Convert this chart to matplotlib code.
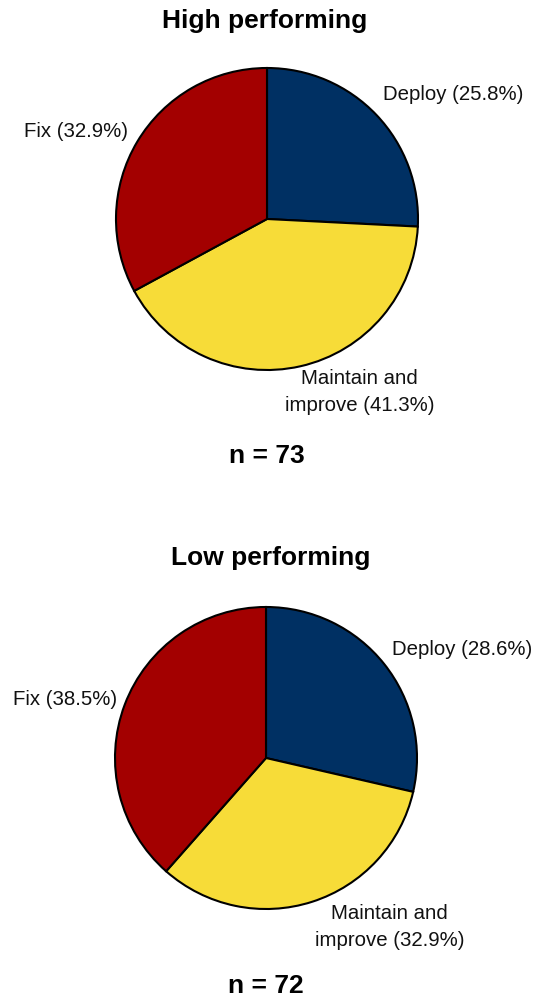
import matplotlib
matplotlib.use("Agg")
import matplotlib.pyplot as plt
from matplotlib.transforms import offset_copy

plt.rcParams["font.family"] = ["Liberation Sans", "DejaVu Sans"]

categories = ["Deploy", "Maintain and\nimprove", "Fix"]
high_values = [25.8, 41.3, 32.9]
low_values = [28.6, 32.9, 38.5]
high_n = 73
low_n = 72
colors = ["#003063", "#F7DC38", "#A30000"]

W, H = 533, 999
fig = plt.figure(figsize=(W / 100, H / 100), dpi=100)
fig.patch.set_facecolor("white")

R = 151  # pie radius in pixels

# per-label nudges (pixels, y up) and vertical alignment
high_nudge = [(-2, 7, "baseline"), (-18, 9, "top"), (1, -1.5, "baseline")]
low_nudge = [(-1.5, 1.5, "baseline"), (-1, 9, "top"), (3.5, -5, "baseline")]


def draw_pie(cx, cy, values, nudges, title, n, title_x, title_base, n_base):
    ax = fig.add_axes([(cx - R) / W, 1 - (cy + R) / H, 2 * R / W, 2 * R / H])
    labels = [f"{c} ({v:.1f}%)" for c, v in zip(categories, values)]
    _, texts = ax.pie(values, labels=labels, colors=colors, startangle=90,
                      counterclock=False, labeldistance=1.08,
                      wedgeprops=dict(edgecolor="black", linewidth=1.5),
                      textprops=dict(fontsize=14.7, multialignment="center",
                                     linespacing=1.52, color="#111111"))
    for t, (dx, dy, va) in zip(texts, nudges):
        t.set_va(va)
        t.set_transform(offset_copy(ax.transData, fig=fig, x=dx, y=dy, units="dots"))
    ax.set_xlim(-1, 1)
    ax.set_ylim(-1, 1)
    ax.set_aspect("equal")
    fig.text(title_x / W, 1 - title_base / H, title, ha="center", va="baseline",
             fontsize=19, fontweight="bold")
    fig.text(cx / W, 1 - n_base / H, f"n = {n}", ha="center", va="baseline",
             fontsize=19, fontweight="bold")


draw_pie(267, 219, high_values, high_nudge, "High performing", high_n, 265, 28, 463)
draw_pie(266, 758, low_values, low_nudge, "Low performing", low_n, 271, 565, 993)

fig.savefig("out.png", dpi=100, facecolor="white")
